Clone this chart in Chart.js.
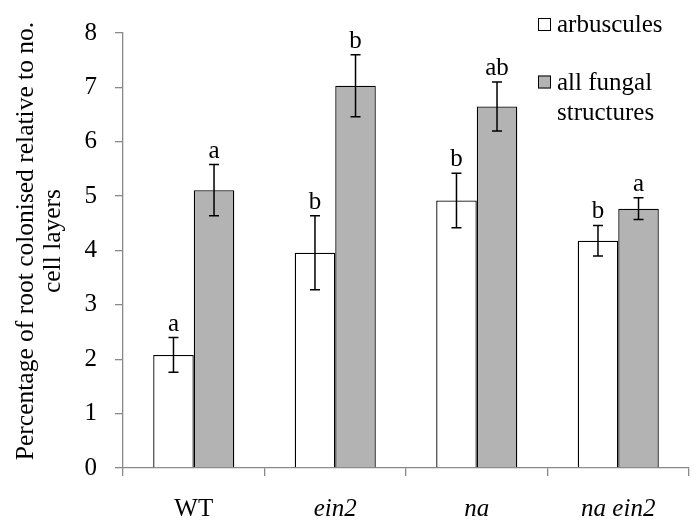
<!DOCTYPE html>
<html>
<head>
<meta charset="utf-8">
<script src="https://cdn.jsdelivr.net/npm/chart.js@4/dist/chart.umd.min.js"></script>
<style>
	html, body { margin: 0; padding: 0; background: #fff; }
	#wrap { width: 700px; height: 531px; position: relative; }
</style>
</head>
<body>
<div id="wrap"><canvas id="myChart"></canvas></div>
<script>
	// data
	let genotypes = ['WT', 'ein2', 'na', 'na ein2']
	let arbuscules = [2.08, 3.96, 4.92, 4.18]
	let arbErr = [0.32, 0.68, 0.50, 0.28]
	let arbLetters = ['a', 'b', 'b', 'b']
	let fungal = [5.11, 7.03, 6.65, 4.77]
	let fungalErr = [0.47, 0.57, 0.45, 0.20]
	let fungalLetters = ['a', 'b', 'ab', 'a']
	let yTicks = [0, 1, 2, 3, 4, 5, 6, 7, 8]
	let yTitle = ['Percentage of root colonised relative to no.', 'cell layers']
	let legendText = [['arbuscules'], ['all fungal', 'structures']]

	let serif = '"Liberation Serif", "Times New Roman", serif'
	let axisGrey = '#898989'
	let barGrey = '#b3b3b3'

	let errorBars = {
		id: 'errorBars',
		afterDatasetsDraw: chart => {
			let ctx = chart.ctx
			let y = chart.scales.y
			let errs = [arbErr, fungalErr]
			let letters = [arbLetters, fungalLetters]
			ctx.save()
			chart.data.datasets.forEach((ds, d) => {
				let meta = chart.getDatasetMeta(d)
				meta.data.forEach((bar, i) => {
					let v = ds.data[i]
					let top = y.getPixelForValue(v + errs[d][i])
					let bot = y.getPixelForValue(v - errs[d][i])
					ctx.strokeStyle = '#000'
					ctx.lineWidth = 1.5
					ctx.beginPath()
					ctx.moveTo(bar.x, top); ctx.lineTo(bar.x, bot)
					ctx.moveTo(bar.x - 5, top); ctx.lineTo(bar.x + 5, top)
					ctx.moveTo(bar.x - 5, bot); ctx.lineTo(bar.x + 5, bot)
					ctx.stroke()
					ctx.fillStyle = '#000'
					ctx.font = '25px ' + serif
					ctx.textAlign = 'center'
					ctx.textBaseline = 'alphabetic'
					ctx.fillText(letters[d][i], bar.x, top - 7)
				})
			})
			ctx.restore()
		}
	}

	let sideText = {
		id: 'sideText',
		afterDraw: chart => {
			let ctx = chart.ctx
			ctx.save()
			// y title
			ctx.translate(26, 241)
			ctx.rotate(-Math.PI / 2)
			ctx.fillStyle = '#000'
			ctx.font = '25.5px ' + serif
			ctx.textAlign = 'center'
			ctx.textBaseline = 'middle'
			ctx.fillText(yTitle[0], 0, 0)
			ctx.fillText(yTitle[1], 0, 27)
			ctx.restore()

			// legend
			ctx.save()
			let fills = ['#fff', barGrey]
			let rows = [24.5, 82]
			ctx.font = '25px ' + serif
			ctx.textAlign = 'left'
			ctx.textBaseline = 'middle'
			legendText.forEach((lines, k) => {
				ctx.fillStyle = fills[k]
				ctx.fillRect(538, rows[k] - 6.5, 13, 13)
				ctx.strokeStyle = '#000'
				ctx.lineWidth = 1
				ctx.strokeRect(538.5, rows[k] - 6, 12, 12)
				ctx.fillStyle = '#000'
				lines.forEach((t, j) => ctx.fillText(t, 557, rows[k] + 1 + j * 30))
			})
			ctx.restore()
		}
	}

	let draw = () => {
		new Chart(document.getElementById('myChart'), {
			type: 'bar',
			data: {
				labels: genotypes,
				datasets: [{
					label: 'arbuscules',
					data: arbuscules,
					backgroundColor: '#fff',
					borderColor: '#000',
					borderWidth: 1.3
				}, {
					label: 'all fungal structures',
					data: fungal,
					backgroundColor: barGrey,
					borderColor: '#000',
					borderWidth: 1.3
				}]
			},
			options: {
				responsive: true,
				maintainAspectRatio: false,
				animation: false,
				layout: { padding: { top: 32, right: 11, left: 0, bottom: 0 } },
				datasets: { bar: { categoryPercentage: 0.573, barPercentage: 1 } },
				plugins: { legend: { display: false }, tooltip: { enabled: false } },
				scales: {
					x: {
						afterFit: s => { s.height = 63 },
						border: { color: axisGrey, width: 1.3 },
						grid: { drawOnChartArea: false, color: axisGrey, tickLength: 8, lineWidth: 1.3 },
						ticks: {
							color: '#000',
							padding: 18,
							font: c => ({ family: serif, size: 25, style: c.index === 0 ? 'normal' : 'italic' })
						}
					},
					y: {
						min: 0,
						max: 8,
						afterFit: s => { s.width = 123 },
						afterBuildTicks: s => { s.ticks = yTicks.map(v => ({ value: v })) },
						border: { color: axisGrey, width: 1.3 },
						grid: { drawOnChartArea: false, color: axisGrey, tickLength: 8, lineWidth: 1.3 },
						ticks: { color: '#000', padding: 18, font: { family: serif, size: 25 } }
					}
				}
			},
			plugins: [errorBars, sideText]
		})
	}

	Promise.all([
		document.fonts.load('25px "Liberation Serif"'),
		document.fonts.load('italic 25px "Liberation Serif"')
	]).then(draw, draw)
</script>
</body>
</html>
